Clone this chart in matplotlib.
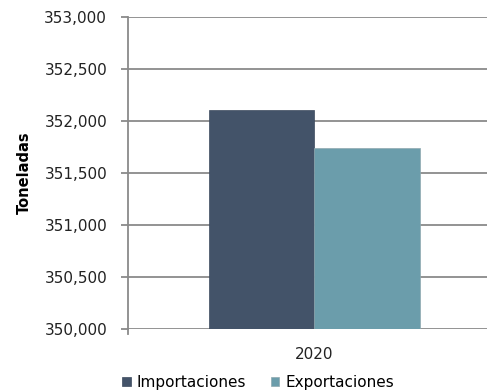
import matplotlib.pyplot as plt
from matplotlib.ticker import FuncFormatter

years = ['2020']
series = ['Importaciones', 'Exportaciones']
importaciones = [352110]
exportaciones = [351740]
colors = ['#435369', '#6b9dab']

fig = plt.figure(figsize=(4.87, 3.92), dpi=100)
ax = fig.add_axes([128/487, 63/392, 1 - 128/487, 312/392])

w = 0.2836
ax.bar([-w/2], importaciones, width=w, color=colors[0], edgecolor='#3c4a5e', linewidth=0.5, label=series[0], zorder=3)
ax.bar([w/2], exportaciones, width=w, color=colors[1], edgecolor='#8fa9b0', linewidth=0.5, label=series[1], zorder=3)

ax.set_ylim(350000, 353000)
ax.set_yticks(range(350000, 353001, 500))
ax.yaxis.set_major_formatter(FuncFormatter(lambda v, p: f'{int(v):,}'))
ax.set_xlim(-0.5, 0.465)
ax.set_xticks([0])
ax.set_xticklabels(years)

ax.grid(axis='y', color='#8a8a8a', linewidth=1.3, zorder=0)
for s in ['top', 'right', 'bottom']:
    ax.spines[s].set_visible(False)
ax.spines['left'].set_color('#8a8a8a')
ax.spines['left'].set_linewidth(1.3)
ax.tick_params(axis='y', length=5, width=1.3, color='#8a8a8a', labelsize=11, pad=10, labelcolor='#222222')
ax.tick_params(axis='x', length=0, labelsize=11, pad=13, labelcolor='#222222')
ax.plot([-0.5, -0.5], [350000, 349950], color='#8a8a8a', lw=1.3, clip_on=False)

ax.set_ylabel('Toneladas', fontsize=10.5, fontweight='bold', labelpad=9)

fig.legend(loc='lower center', bbox_to_anchor=(258/487, -0.03), ncol=2, frameon=False,
           fontsize=11, handlelength=0.55, handleheight=0.55, handletextpad=0.4, columnspacing=1.6)

fig.savefig('out.png', dpi=100)
